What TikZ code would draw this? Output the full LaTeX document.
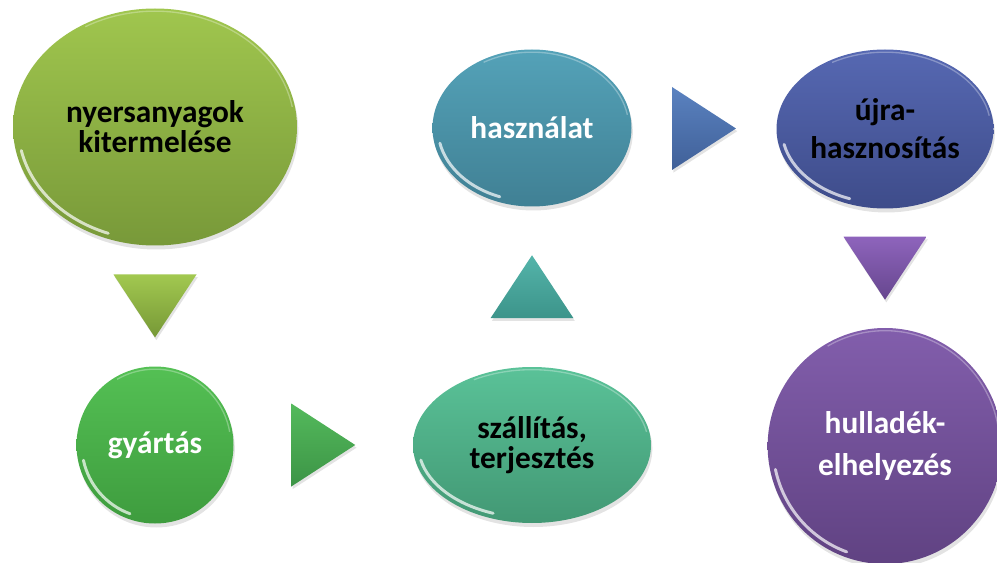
\documentclass[tikz,border=0pt]{standalone}
\usepackage{fontspec}
\setmainfont{Carlito}
\usetikzlibrary{calc,positioning,shapes.geometric,shadows}
\definecolor{rawtop}{RGB}{160,198,78}
\definecolor{rawbot}{RGB}{120,153,57}
\definecolor{mfgtop}{RGB}{84,192,84}
\definecolor{mfgbot}{RGB}{62,156,62}
\definecolor{shiptop}{RGB}{90,194,152}
\definecolor{shipbot}{RGB}{66,152,116}
\definecolor{usetop}{RGB}{84,162,184}
\definecolor{usebot}{RGB}{64,128,148}
\definecolor{recyctop}{RGB}{86,104,178}
\definecolor{recycbot}{RGB}{62,76,138}
\definecolor{wastetop}{RGB}{130,94,172}
\definecolor{wastebot}{RGB}{96,66,130}
\definecolor{trionetop}{RGB}{162,200,80}
\definecolor{trionebot}{RGB}{118,152,54}
\definecolor{tritwotop}{RGB}{84,186,92}
\definecolor{tritwobot}{RGB}{60,148,70}
\definecolor{trithreetop}{RGB}{84,180,170}
\definecolor{trithreebot}{RGB}{60,148,138}
\definecolor{trifourtop}{RGB}{90,130,192}
\definecolor{trifourbot}{RGB}{64,96,152}
\definecolor{trifivetop}{RGB}{142,100,188}
\definecolor{trifivebot}{RGB}{102,70,142}

\begin{document}
\begin{tikzpicture}[x=0.75pt,y=-0.75pt,
  bubble/.style={ellipse,inner sep=0pt,align=center,
    font=\bfseries\fontsize{23.5}{22.5}\selectfont,
    drop shadow={opacity=0.22,shadow xshift=1pt,shadow yshift=-3pt},
    path picture={
      \draw[white,opacity=0.7,line width=2.2pt,line cap=round]
        let \p1=($(path picture bounding box.north east)-(path picture bounding box.center)$)
        in ($(path picture bounding box.center)+(192:{\x1-4pt} and {\y1-4pt})$)
        arc[start angle=192,end angle=250,x radius=\x1-4pt,y radius=\y1-4pt];
      \draw[white,opacity=0.3,line width=1pt]
        let \p1=($(path picture bounding box.north east)-(path picture bounding box.center)$)
        in ($(path picture bounding box.center)+(10:{\x1-2pt} and {\y1-2pt})$)
        arc[start angle=10,end angle=120,x radius=\x1-2pt,y radius=\y1-2pt];
    }},
  tri/.style={drop shadow={opacity=0.22,shadow xshift=1pt,shadow yshift=-2pt}}]
\useasboundingbox (0,0) rectangle (997,563);

% the six stages
\node[bubble,minimum width=213pt,minimum height=177.75pt,top color=rawtop,bottom color=rawbot] (raw) at (155,127) {nyersanyagok\\kitermelése};
\node[bubble,minimum width=117.75pt,minimum height=117.75pt,top color=mfgtop,bottom color=mfgbot,text=white] (mfg) at (155,445) {gyártás};
\node[bubble,minimum width=178.5pt,minimum height=117pt,top color=shiptop,bottom color=shipbot] (ship) at (532,445) {szállítás,\\terjesztés};
\node[bubble,minimum width=149.25pt,minimum height=117.75pt,top color=usetop,bottom color=usebot,text=white] (use) at (532,128) {használat};
\node[bubble,minimum width=162.75pt,minimum height=119.25pt,top color=recyctop,bottom color=recycbot,
  font=\bfseries\fontsize{23.5}{28.5}\selectfont] (recyc) at (885,129) {újra-\\hasznosítás};
\node[bubble,minimum width=176pt,minimum height=177pt,top color=wastetop,bottom color=wastebot,text=white,
  font=\bfseries\fontsize{23.5}{32}\selectfont] (waste) at (885,446) {hulladék-\\elhelyezés};

% triangles between the stages
\coordinate (a1) at ($(raw.south)!0.5!(mfg.north)$);
\coordinate (a2) at ($(mfg.east)!0.5!(ship.west)$);
\coordinate (a3) at ($(ship.north)!0.5!(use.south)$);
\coordinate (a4) at ($(use.east)!0.5!(recyc.west)$);
\coordinate (a5) at ($(recyc.south)!0.5!(waste.north)$);
\shade[tri,top color=trionetop,bottom color=trionebot] ($(a1)+(-41.5,-31.5)$) -- ($(a1)+(41.5,-31.5)$) -- ($(a1)+(0,31.5)$) -- cycle;
\shade[tri,top color=tritwotop,bottom color=tritwobot] ($(a2)+(-32,-41.5)$) -- ($(a2)+(32,0)$) -- ($(a2)+(-32,41.5)$) -- cycle;
\shade[tri,top color=trithreetop,bottom color=trithreebot] ($(a3)+(-41.5,31.5)$) -- ($(a3)+(0,-31.5)$) -- ($(a3)+(41.5,31.5)$) -- cycle;
\shade[tri,top color=trifourtop,bottom color=trifourbot] ($(a4)+(-32,-41.5)$) -- ($(a4)+(32,0)$) -- ($(a4)+(-32,41.5)$) -- cycle;
\shade[tri,top color=trifivetop,bottom color=trifivebot] ($(a5)+(-41.5,-31.5)$) -- ($(a5)+(41.5,-31.5)$) -- ($(a5)+(0,31.5)$) -- cycle;
\end{tikzpicture}
\end{document}
